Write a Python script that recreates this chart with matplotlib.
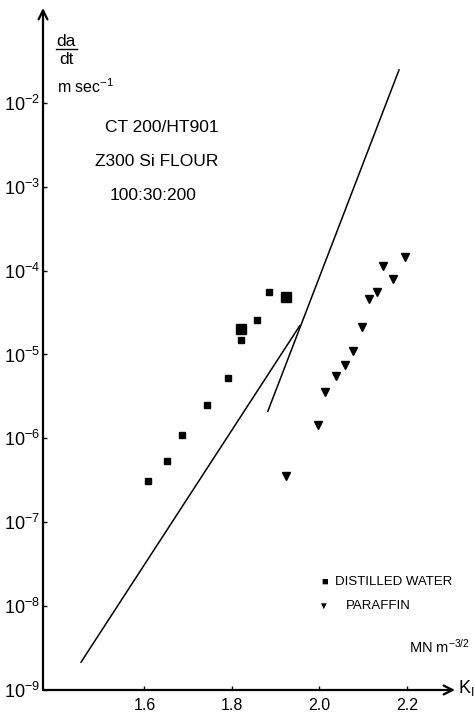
import numpy as np
import matplotlib
matplotlib.use('Agg')
import matplotlib.pyplot as plt

plt.rcParams['font.family'] = ['Liberation Sans', 'DejaVu Sans']
plt.rcParams['mathtext.fontset'] = 'custom'
plt.rcParams['mathtext.rm'] = 'Liberation Sans'
plt.rcParams['mathtext.it'] = 'Liberation Sans'

# Distilled water (small squares)
dw_k = [1.608, 1.651, 1.686, 1.743, 1.791, 1.821, 1.857, 1.885]
dw_rate = [3.1e-7, 5.3e-7, 1.09e-6, 2.47e-6, 5.2e-6, 1.47e-5, 2.6e-5, 5.6e-5]
# Distilled water (large squares)
dw_big_k = [1.821, 1.923]
dw_big_rate = [2.04e-5, 4.8e-5]

# Paraffin (triangles)
par_k = [1.923, 1.997, 2.013, 2.038, 2.058, 2.077, 2.097, 2.113, 2.131, 2.145, 2.168, 2.195]
par_rate = [3.6e-7, 1.43e-6, 3.6e-6, 5.5e-6, 7.4e-6, 1.09e-5, 2.15e-5, 4.6e-5, 5.6e-5,
            1.12e-4, 8.0e-5, 1.47e-4]

# Two straight (in log space) lines
line_a_k = [1.455, 1.955]
line_a_rate = [2.15e-9, 2.2e-5]
line_b_k = [1.882, 2.182]
line_b_rate = [2.1e-6, 2.47e-2]

xticks = [1.6, 1.8, 2.0, 2.2]
xticklabels = ['1.6', '1.8', '2.0', '2.2']
yticks = [1e-9, 1e-8, 1e-7, 1e-6, 1e-5, 1e-4, 1e-3, 1e-2]

W, H = 475, 715
fig = plt.figure(figsize=(W / 100, H / 100), dpi=100)
ax = fig.add_axes([43 / W, 25 / H, (455 - 43) / W, (690 - 8) / H])

ax.set_yscale('log')
ax.set_xlim(1.368, 2.31)
ax.set_ylim(1e-9, 10 ** -0.869)

ax.plot(line_a_k, line_a_rate, color='black', lw=1.1)
ax.plot(line_b_k, line_b_rate, color='black', lw=1.1)
ax.plot(dw_k, dw_rate, 's', color='black', ms=5, ls='none')
ax.plot(dw_big_k, dw_big_rate, 's', color='black', ms=7.5, ls='none')
ax.plot(par_k, par_rate, 'v', color='black', ms=5.5, ls='none')

for s in ['top', 'right', 'left', 'bottom']:
    ax.spines[s].set_visible(False)

# axis arrows
ax.annotate('', xy=(0, 1.0), xytext=(0, 0), xycoords='axes fraction',
            arrowprops=dict(arrowstyle='->', lw=1.6, color='black',
                            mutation_scale=16, shrinkA=0, shrinkB=0))
ax.annotate('', xy=(1.0, 0), xytext=(0, 0), xycoords='axes fraction',
            arrowprops=dict(arrowstyle='->', lw=1.6, color='black',
                            mutation_scale=16, shrinkA=0, shrinkB=0))

ax.set_xticks(xticks)
ax.set_xticklabels(xticklabels, fontsize=11.5)
ax.set_yticks(yticks)
ax.set_yticklabels([r'$10^{%d}$' % int(np.log10(v)) for v in yticks], fontsize=13)
ax.yaxis.set_minor_locator(matplotlib.ticker.NullLocator())
ax.tick_params(axis='both', direction='in', length=3, width=1, pad=2)
ax.tick_params(axis='x', pad=6)

# labels and annotations (figure pixel positions)
def ftext(x, y, s, **kw):
    fig.text(x / W, 1 - y / H, s, **kw)

ftext(66, 42, 'da', fontsize=12.5, ha='center', va='center')
fig.add_artist(plt.Line2D([56 / W, 77 / W], [1 - 49 / H, 1 - 49 / H], color='black', lw=1))
ftext(66, 59, 'dt', fontsize=12.5, ha='center', va='center')
ftext(57, 87, r'm sec$^{\mathregular{-1}}$', fontsize=11.5, ha='left', va='center')

ftext(162, 128, 'CT 200/HT901', fontsize=12.5, ha='center', va='center')
ftext(157, 162, 'Z300 Si FLOUR', fontsize=12.5, ha='center', va='center')
ftext(153, 196, '100:30:200', fontsize=12.5, ha='center', va='center')

ftext(325, 582, '\u25a0', fontsize=8, ha='center', va='center')
ftext(335, 582, 'DISTILLED WATER', fontsize=9.5, ha='left', va='center')
ftext(323, 606, '\u25bc', fontsize=7, ha='center', va='center')
ftext(346, 606, 'PARAFFIN', fontsize=9.5, ha='left', va='center')

ftext(470, 647, r'MN m$^{\mathregular{-3/2}}$', fontsize=10.5, ha='right', va='center')
ftext(458, 688, r'K$_\mathregular{I}$', fontsize=13, ha='left', va='center')

fig.savefig('out.png', dpi=100)
